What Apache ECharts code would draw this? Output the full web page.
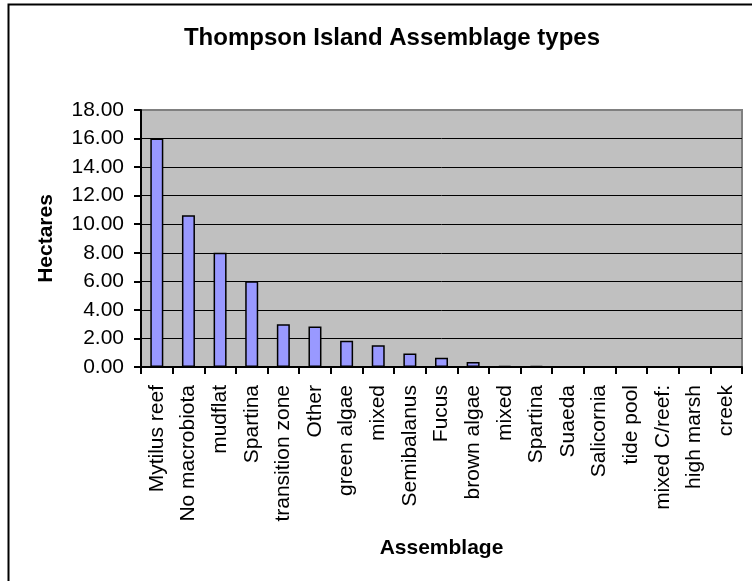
<!DOCTYPE html>
<html>
<head>
<meta charset="utf-8">
<script src="https://cdn.jsdelivr.net/npm/echarts@6/dist/echarts.min.js"></script>
<style>
html,body{margin:0;padding:0;background:#fff;}
#chart{width:752px;height:581px;}
</style>
</head>
<body>
<div id="chart"></div>
<script>
var titleText = 'Thompson Island Assemblage types';
var categories = ['Mytilus reef','No macrobiota','mudflat','Spartina','transition zone','Other','green algae','mixed','Semibalanus','Fucus','brown algae','mixed','Spartina','Suaeda','Salicornia','tide pool','mixed C/reef:','high marsh','creek'];
var hectares = [16.0, 10.63, 8.0, 6.0, 3.0, 2.83, 1.83, 1.53, 0.94, 0.64, 0.35, 0.08, 0.07, 0, 0, 0, 0, 0, 0];
var yAxisName = 'Hectares';
var xAxisName = 'Assemblage';

var FONT = '"Liberation Sans", Arial, sans-serif';
var chart = echarts.init(document.getElementById('chart'), null, {renderer:'canvas'});
chart.setOption({
  animation: false,
  backgroundColor: '#ffffff',
  graphic: [{
    type: 'rect', left: 6, top: 2, z: -10,
    shape: {width: 760, height: 600},
    style: {fill: 'none', stroke: '#000', lineWidth: 2}
  }],
  title: {
    text: titleText,
    left: 387, top: 21, textAlign: 'center',
    textStyle: {fontFamily: FONT, fontWeight: 'bold', fontSize: 24, color: '#000'}
  },
  grid: {
    left: 141, right: 10, top: 110, bottom: 214,
    show: true, backgroundColor: '#C0C0C0', borderColor: '#808080', borderWidth: 2
  },
  xAxis: {
    type: 'category',
    data: categories,
    name: xAxisName,
    nameLocation: 'middle',
    nameGap: 171,
    nameTextStyle: {fontFamily: FONT, fontWeight: 'bold', fontSize: 21, color: '#000'},
    axisLine: {lineStyle: {color: '#000', width: 2}},
    axisTick: {show: true, length: 7, lineStyle: {color: '#000', width: 2}},
    axisLabel: {rotate: 90, interval: 0, margin: 18, fontFamily: FONT, fontSize: 21, color: '#000'}
  },
  yAxis: {
    type: 'value',
    min: 0, max: 18, interval: 2,
    name: yAxisName,
    nameLocation: 'middle',
    nameGap: 84,
    nameTextStyle: {fontFamily: FONT, fontWeight: 'bold', fontSize: 21, color: '#000'},
    axisLine: {show: true, lineStyle: {color: '#000', width: 2}},
    axisTick: {show: true, length: 7, lineStyle: {color: '#000', width: 2}},
    axisLabel: {margin: 17, fontFamily: FONT, fontSize: 21, color: '#000',
      formatter: function(v){ return v.toFixed(2); }},
    splitLine: {show: true, showMinLine: false, showMaxLine: false, lineStyle: {color: '#000', width: 1}}
  },
  series: [{
    type: 'bar',
    data: hectares,
    barWidth: 13,
    itemStyle: {color: '#9999FF', borderColor: '#000', borderWidth: 1.5}
  }]
});
</script>
</body>
</html>
